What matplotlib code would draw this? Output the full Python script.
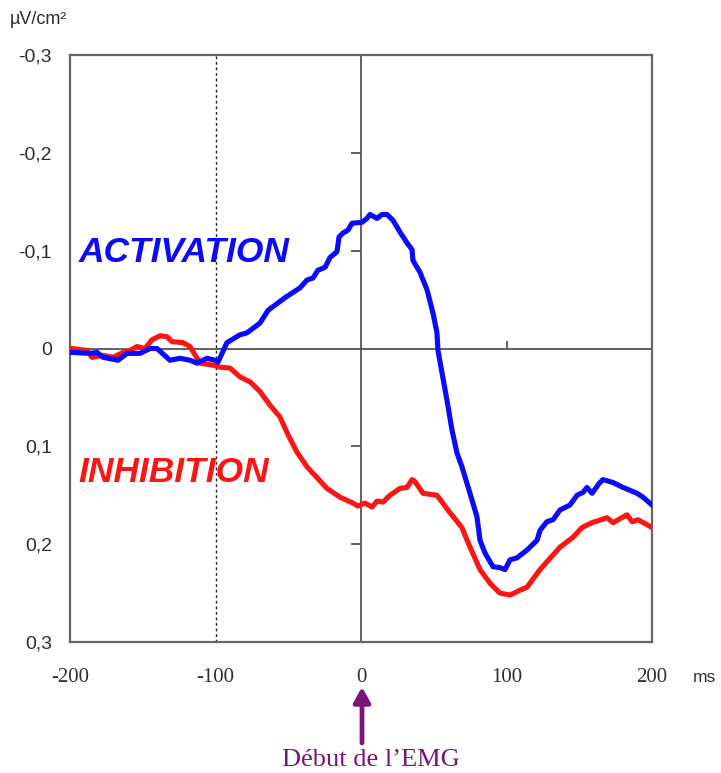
import matplotlib
matplotlib.use("Agg")
import matplotlib.pyplot as plt
from matplotlib import markers

# Time axis (ms, relative to EMG onset) and surface Laplacian amplitudes (µV/cm²)
act_t = [-198.6, -186.3, -181.4, -177.3, -167.0, -160.8, -151.9, -145.0, -140.2, -131.3,
         -124.4, -117.5, -112.7, -105.8, -100.3, -98.3, -92.1, -83.2, -78.4, -69.4,
         -63.9, -52.2, -41.9, -37.1, -33.0, -29.6, -24.7, -21.3, -16.5, -15.1,
         -12.4, -8.9, -6.2, 0.7, 4.1, 6.2, 11.0, 14.4, 17.9, 22.0,
         26.8, 31.6, 35.1, 35.7, 40.5, 45.4, 49.5, 52.2, 52.9, 55.7,
         59.1, 62.5, 66.0, 69.4, 74.9, 79.7, 81.8, 85.2, 90.7, 95.5,
         99.0, 102.4, 107.2, 114.1, 121.0, 123.0, 127.8, 132.0, 136.8, 143.6,
         148.5, 152.6, 155.3, 158.8, 163.6, 166.3, 173.2, 180.1, 189.7, 193.8, 200.0]
act_v = [0.004, 0.005, 0.004, 0.009, 0.012, 0.005, 0.005, 0.000, 0.000, 0.012,
         0.010, 0.012, 0.015, 0.010, 0.012, 0.014, -0.006, -0.014, -0.016, -0.026,
         -0.039, -0.052, -0.062, -0.070, -0.072, -0.080, -0.083, -0.093, -0.099, -0.114,
         -0.118, -0.121, -0.128, -0.129, -0.133, -0.137, -0.133, -0.137, -0.137, -0.131,
         -0.119, -0.108, -0.101, -0.090, -0.078, -0.060, -0.036, -0.016, 0.002, 0.025,
         0.053, 0.083, 0.107, 0.121, 0.148, 0.172, 0.196, 0.209, 0.223, 0.224,
         0.226, 0.216, 0.214, 0.206, 0.196, 0.186, 0.177, 0.175, 0.165, 0.160,
         0.150, 0.147, 0.142, 0.148, 0.138, 0.134, 0.137, 0.142, 0.148, 0.152, 0.160]

inh_t = [-198.6, -188.3, -184.9, -177.3, -170.4, -163.6, -158.8, -154.0, -148.5, -143.6,
         -138.1, -133.3, -129.9, -122.3, -117.5, -110.7, -101.7, -96.9, -90.0, -83.2,
         -76.3, -69.4, -62.5, -55.7, -50.2, -44.0, -37.1, -30.2, -23.4, -14.4,
         -5.5, -2.1, 2.7, 7.6, 11.0, 15.1, 19.9, 26.8, 31.6, 35.1,
         37.1, 42.6, 52.2, 61.2, 69.4, 72.9, 81.8, 88.7, 95.5, 102.4,
         109.3, 114.1, 123.0, 136.8, 145.7, 151.9, 158.8, 169.1, 173.2, 182.8,
         186.3, 190.4, 200.0]
inh_v = [0.000, 0.002, 0.009, 0.007, 0.009, 0.004, 0.002, -0.002, 0.000, -0.009,
         -0.013, -0.012, -0.007, -0.006, -0.002, 0.015, 0.017, 0.019, 0.020, 0.029,
         0.034, 0.044, 0.058, 0.070, 0.088, 0.106, 0.121, 0.132, 0.143, 0.152,
         0.158, 0.161, 0.158, 0.162, 0.156, 0.157, 0.150, 0.143, 0.142, 0.134,
         0.136, 0.148, 0.150, 0.168, 0.183, 0.196, 0.226, 0.240, 0.250, 0.252,
         0.247, 0.244, 0.226, 0.203, 0.193, 0.183, 0.178, 0.173, 0.178, 0.170,
         0.177, 0.175, 0.183]

x_ticks = [-200, -100, 0, 100, 200]
x_tick_labels = ["-200", "-100", "0", "100", "200"]
y_ticks = [-0.3, -0.2, -0.1, 0.0, 0.1, 0.2, 0.3]
y_tick_labels = ["-0,3", "-0,2", "-0,1", "0", "0,1", "0,2", "0,3"]

BLUE = "#0a0aff"
RED = "#ff1414"
PURPLE = "#7a1478"
GRID = "#555555"

fig = plt.figure(figsize=(7.21, 7.73), dpi=100)
ax = fig.add_axes([70 / 721, 1 - 642 / 773, 582 / 721, 587 / 773])

ax.set_xlim(-200, 200)
ax.set_ylim(0.3, -0.3)

# Reference lines: onset (x=0), baseline (y=0), and -100 ms marker
ax.axvline(0, color=GRID, lw=1.3, zorder=1)
ax.axhline(0, color=GRID, lw=1.3, zorder=1)
ax.axvline(-100, color="#222222", lw=1.0, ls=(0, (2, 2)), zorder=1)
ax.plot([0, 0, 0, 0], [-0.2, -0.1, 0.1, 0.2], ls="none", marker=markers.TICKLEFT,
        ms=7, mew=1.3, color=GRID, zorder=1)
ax.plot([100], [0], ls="none", marker=markers.TICKUP, ms=6, mew=1.3, color=GRID, zorder=1)

ax.plot(inh_t, inh_v, color=RED, lw=3.7, solid_joinstyle="round", zorder=3)
ax.plot(act_t, act_v, color=BLUE, lw=3.7, solid_joinstyle="round", zorder=4)

for s in ax.spines.values():
    s.set_color("#666666")
    s.set_linewidth(1.6)

ax.set_xticks(x_ticks)
ax.set_xticklabels(x_tick_labels, family="Liberation Serif", fontsize=15, color="#2e2e2e")
ax.set_yticks(y_ticks)
ax.set_yticklabels(y_tick_labels, family="Liberation Sans", fontsize=14, color="#2e2e2e")
ax.tick_params(axis="both", length=0)
ax.tick_params(axis="y", pad=13)
ax.tick_params(axis="x", pad=19)

fig.text(10 / 721, 1 - 19 / 773, "µV/cm²", family="Liberation Sans", fontsize=13,
         color="#2e2e2e", ha="left", va="center")
fig.text(693 / 721, 1 - 677 / 773, "ms", family="Liberation Sans", fontsize=12.5,
         color="#2e2e2e", ha="left", va="center")

ax.text(-194, -0.098, "ACTIVATION", color=BLUE, family="Liberation Sans",
        fontsize=25.5, fontweight="bold", style="italic", ha="left", va="center", zorder=5)
ax.text(-194, 0.127, "INHIBITION", color=RED, family="Liberation Sans",
        fontsize=25.5, fontweight="bold", style="italic", ha="left", va="center", zorder=5)

# EMG onset marker below the time axis
ax.annotate("", xy=(362 / 721, 1 - 687 / 773), xytext=(362 / 721, 1 - 743 / 773),
            xycoords="figure fraction", textcoords="figure fraction",
            arrowprops=dict(arrowstyle="-|>,head_length=0.9,head_width=0.5",
                            color=PURPLE, lw=3.4, shrinkA=0, shrinkB=0))
fig.text(371 / 721, 1 - 760 / 773, "Début de l\u2019EMG", family="Liberation Serif",
         fontsize=19, color=PURPLE, ha="center", va="center")

fig.savefig("out.png", dpi=100)
